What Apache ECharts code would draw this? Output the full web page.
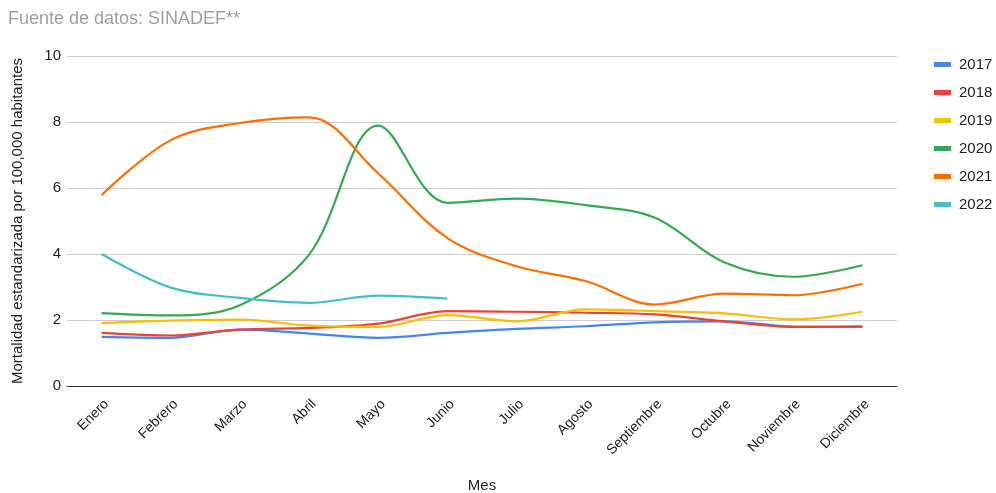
<!DOCTYPE html>
<html>
<head>
<meta charset="utf-8">
<script src="https://cdn.jsdelivr.net/npm/echarts@6/dist/echarts.min.js"></script>
<style>
  html, body { margin: 0; padding: 0; background: #fff; }
  #chart { width: 996px; height: 493px; }
</style>
</head>
<body>
<div id="chart"></div>
<script>
// Monthly standardized mortality per 100,000 inhabitants, by year
const meses = ['Enero', 'Febrero', 'Marzo', 'Abril', 'Mayo', 'Junio', 'Julio', 'Agosto', 'Septiembre', 'Octubre', 'Noviembre', 'Diciembre'];
const anios = ['2017', '2018', '2019', '2020', '2021', '2022'];
const colores = ['#4285F4', '#EA4335', '#FBBC04', '#34A853', '#FF6D01', '#46BDC6'];

const v2017 = [1.49, 1.46, 1.71, 1.59, 1.46, 1.61, 1.73, 1.81, 1.93, 1.96, 1.80, 1.79];
const v2018 = [1.61, 1.53, 1.71, 1.76, 1.89, 2.27, 2.25, 2.22, 2.17, 1.96, 1.79, 1.81];
const v2019 = [1.91, 1.98, 2.01, 1.83, 1.79, 2.15, 1.96, 2.32, 2.27, 2.20, 2.02, 2.25];
const v2020 = [2.21, 2.14, 2.45, 3.98, 7.89, 5.55, 5.68, 5.48, 5.10, 3.75, 3.31, 3.66];
const v2021 = [5.78, 7.45, 7.97, 8.14, 6.44, 4.48, 3.63, 3.18, 2.47, 2.80, 2.75, 3.10];
const v2022 = [4.00, 2.98, 2.67, 2.52, 2.74, 2.65];

const yTicks = [0, 2, 4, 6, 8, 10];
const valores = [v2017, v2018, v2019, v2020, v2021, v2022];

const chart = echarts.init(document.getElementById('chart'));

chart.setOption({
  animation: false,
  textStyle: { fontFamily: 'Liberation Sans, Arial, sans-serif' },
  title: {
    text: 'Fuente de datos: SINADEF**',
    left: 3,
    top: 5,
    textStyle: { color: '#9e9e9e', fontSize: 18, fontWeight: 'normal' }
  },
  legend: {
    orient: 'vertical',
    left: 929,
    top: 52,
    itemWidth: 17,
    itemHeight: 5,
    itemGap: 13,
    icon: 'rect',
    textStyle: { color: '#222', fontSize: 15, padding: [0, 0, 0, 3] },
    data: anios
  },
  grid: {
    left: 67, right: 99, top: 56, bottom: 107,
    containLabel: false,
    outerBoundsMode: 'none'
  },
  xAxis: {
    type: 'category',
    data: meses,
    boundaryGap: true,
    name: 'Mes',
    nameLocation: 'middle',
    nameGap: 92,
    nameTextStyle: { color: '#222', fontSize: 15 },
    axisLine: { lineStyle: { color: '#333', width: 1 } },
    axisTick: { show: false },
    axisLabel: {
      rotate: 45, color: '#222', fontSize: 14, margin: 11, interval: 0,
      verticalAlign: 'top'
    }
  },
  yAxis: {
    type: 'value',
    min: 0,
    max: 10,
    interval: 2,
    name: 'Mortalidad estandarizada por 100,000 habitantes',
    nameLocation: 'middle',
    nameGap: 42,
    nameTextStyle: { color: '#222', fontSize: 15 },
    axisLine: { show: false },
    axisTick: { show: false },
    axisLabel: {
      color: '#222', fontSize: 15, margin: 6,
      formatter: v => (yTicks.includes(v) ? String(v) : '')
    },
    splitLine: { lineStyle: { color: '#cccccc', width: 1 } }
  },
  series: anios.map((a, i) => ({
    name: a,
    type: 'line',
    data: valores[i],
    smooth: 0.35,
    showSymbol: false,
    symbol: 'none',
    lineStyle: { color: colores[i], width: 2.2 },
    itemStyle: { color: colores[i] },
    z: 2 + i
  }))
});
</script>
</body>
</html>
